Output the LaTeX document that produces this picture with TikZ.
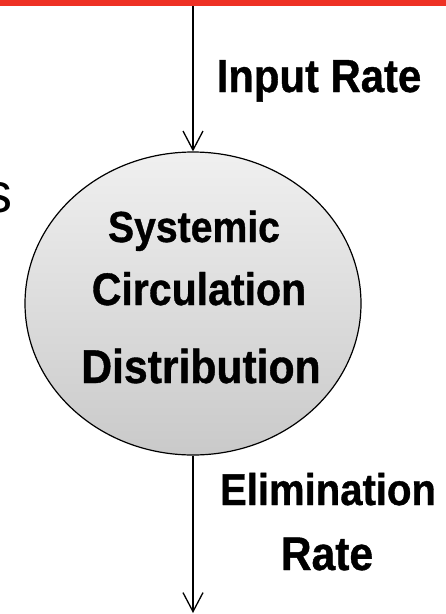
\documentclass[tikz,border=0pt]{standalone}
\usepackage{fontspec}
\setmainfont{Liberation Sans}
\newfontfamily\nb{Liberation Sans Bold}[FakeStretch=0.9,FakeBold=0.8]
\usetikzlibrary{arrows.meta,shapes.geometric}
\definecolor{barred}{HTML}{EE3124}
\begin{document}
\begin{tikzpicture}[x=1pt,y=1pt,
  lbl/.style={inner sep=0pt,anchor=base,font=\nb\fontsize{#1}{50}\selectfont},
  flow/.style={line width=1.3pt,-{Straight Barb[length=19pt,width=20pt,line width=1.3pt]}}]
\useasboundingbox (0,0) rectangle (446,-614);
\fill[white] (0,0) rectangle (446,-614);
\node[fill=barred,inner sep=0pt,minimum width=446pt,minimum height=6pt,anchor=north west] (bar) at (0,0) {};
\node[ellipse,draw,line width=1.2pt,minimum width=336pt,minimum height=303pt,
  top color=gray!12,bottom color=gray!42,inner sep=0pt] (sys) at (193,-303.5) {};
\coordinate (in) at (193,-6);
\coordinate (out) at (193,-613);
\draw[flow] (in) -- (sys.north);
\draw[flow] (sys.south) -- (out);
\node[lbl=43.5] (t1) at (194,-242) {Systemic};
\node[lbl=45.6] (t2) at (199,-305) {Circulation};
\node[lbl=47.4] (t3) at (201,-383) {Distribution};
\node[lbl=46.5] (ir) at (319,-92) {Input Rate};
\node[lbl=44.5] (el) at (328,-505) {Elimination};
\node[lbl=47.3] (er) at (327,-570) {Rate};
\node[inner sep=0pt,anchor=base east,font=\fontsize{56}{60}\selectfont] (s) at (13,-212) {s};
\end{tikzpicture}
\end{document}
